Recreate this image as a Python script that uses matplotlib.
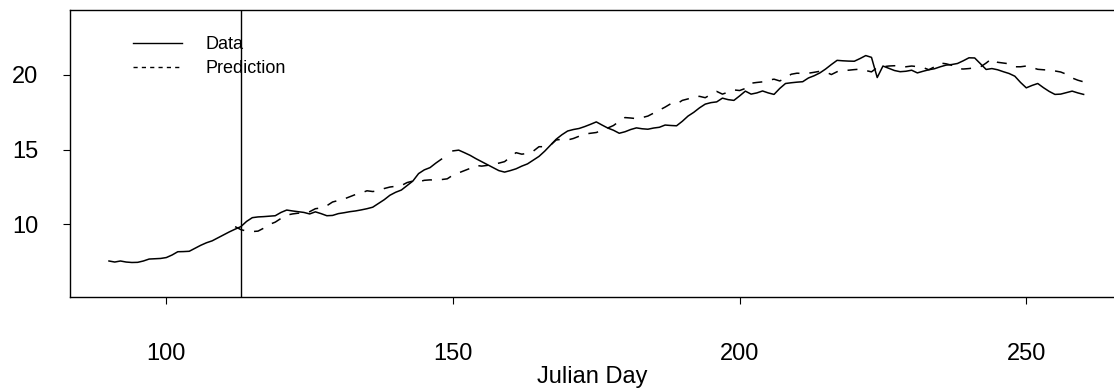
import numpy as np
import matplotlib
matplotlib.use("Agg")
import matplotlib.pyplot as plt
from matplotlib.lines import Line2D

plt.rcParams['font.family'] = ['Liberation Sans', 'DejaVu Sans']

# observed series, Julian days 90..260 (day 149 missing)
data_days = np.arange(90, 261)
data_vals = [
    7.55, 7.48, 7.55, 7.48, 7.45, 7.46, 7.55, 7.68, 7.70, 7.72,
    7.78, 7.95, 8.17, 8.18, 8.20, 8.40, 8.60, 8.77, 8.90, 9.10,
    9.30, 9.50, 9.68, 9.85, 10.20, 10.45, 10.50, 10.52, 10.55, 10.58,
    10.80, 10.96, 10.90, 10.85, 10.80, 10.70, 10.84, 10.72, 10.58, 10.60,
    10.72, 10.78, 10.85, 10.90, 10.97, 11.05, 11.15, 11.40, 11.65, 11.95,
    12.15, 12.30, 12.60, 12.90, 13.40, 13.65, 13.80, 14.10, 14.37, np.nan,
    14.92, 14.97, 14.80, 14.62, 14.40, 14.20, 14.00, 13.80, 13.60, 13.50,
    13.60, 13.72, 13.90, 14.05, 14.30, 14.55, 14.90, 15.30, 15.70, 16.00,
    16.25, 16.35, 16.42, 16.55, 16.70, 16.86, 16.65, 16.45, 16.30, 16.10,
    16.20, 16.35, 16.46, 16.40, 16.37, 16.45, 16.50, 16.65, 16.62, 16.60,
    16.90, 17.25, 17.50, 17.80, 18.05, 18.15, 18.20, 18.45, 18.35, 18.30,
    18.60, 18.92, 18.72, 18.80, 18.93, 18.80, 18.70, 19.10, 19.43, 19.48,
    19.52, 19.55, 19.80, 19.95, 20.14, 20.40, 20.70, 20.98, 20.95, 20.93,
    20.92, 21.10, 21.30, 21.18, 19.83, 20.60, 20.45, 20.30, 20.22, 20.25,
    20.32, 20.14, 20.25, 20.35, 20.42, 20.55, 20.66, 20.70, 20.77, 20.95,
    21.15, 21.14, 20.75, 20.37, 20.43, 20.35, 20.22, 20.10, 19.92, 19.50,
    19.14, 19.30, 19.43, 19.15, 18.90, 18.70, 18.72, 18.82, 18.92, 18.80,
    18.70,
]

# model prediction, Julian days 112..260
pred_days = np.arange(112, 261)
pred_vals = [
    9.85, 9.65, 9.55, 9.52, 9.55, 9.75, 10.00, 10.15,
    10.40, 10.62, 10.70, 10.75, 10.75, 10.85, 11.05, 11.10, 11.25, 11.50,
    11.60, 11.70, 11.85, 12.00, 12.10, 12.25, 12.20, 12.25, 12.40, 12.50,
    12.55, 12.60, 12.80, 12.90, 12.85, 12.95, 12.98, 12.96, 13.00, 13.05,
    13.30, 13.45, 13.60, 13.75, 13.95, 13.90, 13.95, 14.05, 14.10, 14.20,
    14.50, 14.80, 14.70, 14.75, 14.90, 15.20, 15.20, 15.30, 15.65, 15.70,
    15.65, 15.75, 15.90, 16.05, 16.10, 16.15, 16.30, 16.45, 16.62, 16.90,
    17.15, 17.12, 17.08, 17.15, 17.25, 17.45, 17.65, 17.85, 18.08, 18.05,
    18.30, 18.40, 18.55, 18.57, 18.48, 18.70, 18.90, 18.72, 18.85, 19.00,
    18.96, 19.10, 19.45, 19.50, 19.54, 19.65, 19.72, 19.60, 19.80, 20.05,
    20.12, 20.10, 20.12, 20.18, 20.25, 20.20, 20.03, 20.22, 20.30, 20.32,
    20.36, 20.39, 20.30, 20.21, 20.50, 20.55, 20.60, 20.62, 20.58, 20.55,
    20.60, 20.56, 20.50, 20.35, 20.55, 20.80, 20.75, 20.65, 20.42, 20.40,
    20.43, 20.48, 20.54, 20.80, 21.10, 20.85, 20.80, 20.75, 20.55, 20.55,
    20.60, 20.50, 20.38, 20.35, 20.32, 20.27, 20.20, 20.05, 19.80, 19.65,
    19.54,
]

split_day = 113
x_ticks = [100, 150, 200, 250]
y_ticks = [10, 15, 20]

fig = plt.figure(figsize=(11.14, 3.89), dpi=100)
ax = fig.add_axes([70 / 1114, 92 / 389, 1044 / 1114, 287 / 389])

ax.plot(data_days, data_vals, color="black", lw=1.1)
ax.plot(pred_days, pred_vals, color="black", lw=1.1, linestyle=(0, (6.5, 6.5)))
ax.axvline(split_day, color="black", lw=1.0)

ax.set_xlim(83.2, 265.3)
ax.set_ylim(5.14, 24.35)
ax.set_xticks(x_ticks)
ax.set_yticks(y_ticks)
ax.tick_params(axis="x", length=5, width=0.8, pad=28, labelsize=17)
ax.tick_params(axis="y", length=5, width=0.8, pad=18, labelsize=17)
ax.spines["right"].set_visible(False)
for s in ["left", "top", "bottom"]:
    ax.spines[s].set_linewidth(1.0)

ax.set_xlabel("Julian Day", fontsize=17, labelpad=1)

handles = [Line2D([], [], color="black", lw=1.0),
           Line2D([], [], color="black", lw=1.0, linestyle=(0, (3, 3)))]
ax.legend(handles, ["Data", "Prediction"], loc="upper left",
          bbox_to_anchor=(63 / 1044, 1 - 26 / 287), frameon=False,
          fontsize=13, handlelength=2.7, handletextpad=1.3,
          labelspacing=0.38, borderpad=0, borderaxespad=0)

fig.savefig("out.png", dpi=100)
